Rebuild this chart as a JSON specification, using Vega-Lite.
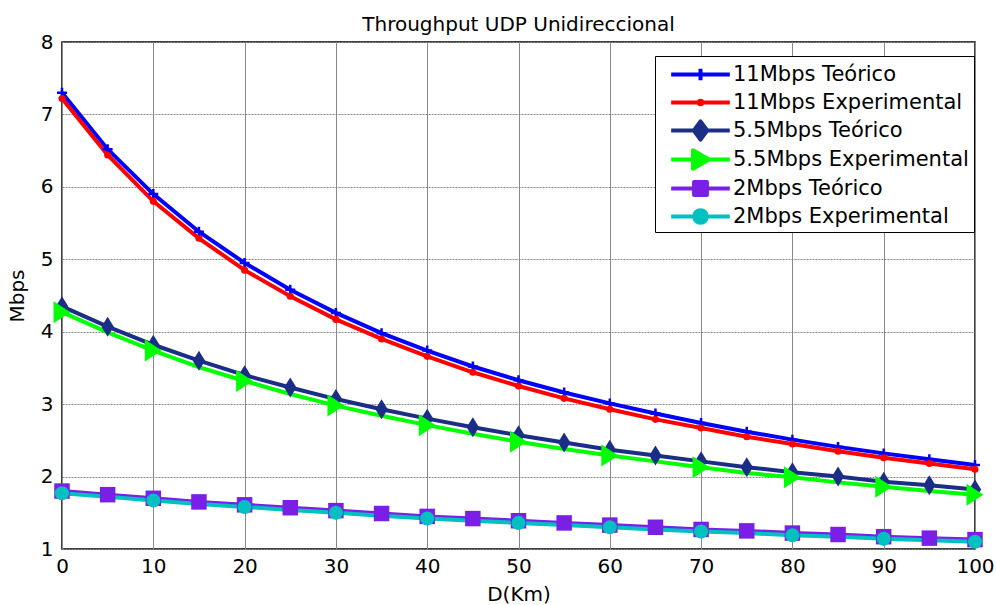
{
  "$schema": "https://vega.github.io/schema/vega-lite/v6.json",
  "width": 913,
  "height": 507,
  "autosize": "none",
  "padding": {"left": 62, "top": 42, "right": 21, "bottom": 56},
  "background": "white",
  "title": {"text": "Throughput  UDP Unidireccional", "fontSize": 20, "font": "DejaVu Sans", "fontWeight": "normal", "color": "black", "anchor": "middle", "frame": "group", "offset": -3},
  "config": {
    "view": {"stroke": "black", "strokeWidth": 1.5},
    "font": "DejaVu Sans",
    "axis": {"labelFont": "DejaVu Sans", "titleFont": "DejaVu Sans", "labelColor": "black", "titleColor": "black", "labelFontSize": 20, "titleFontSize": 20, "titleFontWeight": "normal", "ticks": false, "domain": false, "grid": true, "gridColor": "#888888", "gridOpacity": 1, "gridWidth": 1, "labelFlush": false}
  },
  "data": {"values": [
    {"d":0,"s":"11Mbps Teórico","v":7.30},{"d":5,"s":"11Mbps Teórico","v":6.52},{"d":10,"s":"11Mbps Teórico","v":5.90},{"d":15,"s":"11Mbps Teórico","v":5.38},{"d":20,"s":"11Mbps Teórico","v":4.95},{"d":25,"s":"11Mbps Teórico","v":4.58},{"d":30,"s":"11Mbps Teórico","v":4.26},{"d":35,"s":"11Mbps Teórico","v":3.98},{"d":40,"s":"11Mbps Teórico","v":3.74},{"d":45,"s":"11Mbps Teórico","v":3.52},{"d":50,"s":"11Mbps Teórico","v":3.33},{"d":55,"s":"11Mbps Teórico","v":3.16},{"d":60,"s":"11Mbps Teórico","v":3.01},{"d":65,"s":"11Mbps Teórico","v":2.87},{"d":70,"s":"11Mbps Teórico","v":2.74},{"d":75,"s":"11Mbps Teórico","v":2.62},{"d":80,"s":"11Mbps Teórico","v":2.51},{"d":85,"s":"11Mbps Teórico","v":2.41},{"d":90,"s":"11Mbps Teórico","v":2.32},{"d":95,"s":"11Mbps Teórico","v":2.24},{"d":100,"s":"11Mbps Teórico","v":2.16},
    {"d":0,"s":"11Mbps Experimental","v":7.22},{"d":5,"s":"11Mbps Experimental","v":6.44},{"d":10,"s":"11Mbps Experimental","v":5.80},{"d":15,"s":"11Mbps Experimental","v":5.29},{"d":20,"s":"11Mbps Experimental","v":4.85},{"d":25,"s":"11Mbps Experimental","v":4.49},{"d":30,"s":"11Mbps Experimental","v":4.17},{"d":35,"s":"11Mbps Experimental","v":3.90},{"d":40,"s":"11Mbps Experimental","v":3.66},{"d":45,"s":"11Mbps Experimental","v":3.44},{"d":50,"s":"11Mbps Experimental","v":3.25},{"d":55,"s":"11Mbps Experimental","v":3.08},{"d":60,"s":"11Mbps Experimental","v":2.93},{"d":65,"s":"11Mbps Experimental","v":2.79},{"d":70,"s":"11Mbps Experimental","v":2.67},{"d":75,"s":"11Mbps Experimental","v":2.55},{"d":80,"s":"11Mbps Experimental","v":2.45},{"d":85,"s":"11Mbps Experimental","v":2.35},{"d":90,"s":"11Mbps Experimental","v":2.26},{"d":95,"s":"11Mbps Experimental","v":2.18},{"d":100,"s":"11Mbps Experimental","v":2.10},
    {"d":0,"s":"5.5Mbps Teórico","v":4.35},{"d":5,"s":"5.5Mbps Teórico","v":4.07},{"d":10,"s":"5.5Mbps Teórico","v":3.82},{"d":15,"s":"5.5Mbps Teórico","v":3.60},{"d":20,"s":"5.5Mbps Teórico","v":3.40},{"d":25,"s":"5.5Mbps Teórico","v":3.23},{"d":30,"s":"5.5Mbps Teórico","v":3.07},{"d":35,"s":"5.5Mbps Teórico","v":2.93},{"d":40,"s":"5.5Mbps Teórico","v":2.80},{"d":45,"s":"5.5Mbps Teórico","v":2.68},{"d":50,"s":"5.5Mbps Teórico","v":2.57},{"d":55,"s":"5.5Mbps Teórico","v":2.47},{"d":60,"s":"5.5Mbps Teórico","v":2.37},{"d":65,"s":"5.5Mbps Teórico","v":2.29},{"d":70,"s":"5.5Mbps Teórico","v":2.21},{"d":75,"s":"5.5Mbps Teórico","v":2.13},{"d":80,"s":"5.5Mbps Teórico","v":2.06},{"d":85,"s":"5.5Mbps Teórico","v":2.00},{"d":90,"s":"5.5Mbps Teórico","v":1.93},{"d":95,"s":"5.5Mbps Teórico","v":1.88},{"d":100,"s":"5.5Mbps Teórico","v":1.82},
    {"d":0,"s":"5.5Mbps Experimental","v":4.27},{"d":5,"s":"5.5Mbps Experimental","v":3.99},{"d":10,"s":"5.5Mbps Experimental","v":3.74},{"d":15,"s":"5.5Mbps Experimental","v":3.51},{"d":20,"s":"5.5Mbps Experimental","v":3.32},{"d":25,"s":"5.5Mbps Experimental","v":3.14},{"d":30,"s":"5.5Mbps Experimental","v":2.98},{"d":35,"s":"5.5Mbps Experimental","v":2.84},{"d":40,"s":"5.5Mbps Experimental","v":2.71},{"d":45,"s":"5.5Mbps Experimental","v":2.59},{"d":50,"s":"5.5Mbps Experimental","v":2.48},{"d":55,"s":"5.5Mbps Experimental","v":2.38},{"d":60,"s":"5.5Mbps Experimental","v":2.29},{"d":65,"s":"5.5Mbps Experimental","v":2.21},{"d":70,"s":"5.5Mbps Experimental","v":2.13},{"d":75,"s":"5.5Mbps Experimental","v":2.05},{"d":80,"s":"5.5Mbps Experimental","v":1.99},{"d":85,"s":"5.5Mbps Experimental","v":1.92},{"d":90,"s":"5.5Mbps Experimental","v":1.86},{"d":95,"s":"5.5Mbps Experimental","v":1.80},{"d":100,"s":"5.5Mbps Experimental","v":1.75},
    {"d":0,"s":"2Mbps Teórico","v":1.80},{"d":5,"s":"2Mbps Teórico","v":1.75},{"d":10,"s":"2Mbps Teórico","v":1.70},{"d":15,"s":"2Mbps Teórico","v":1.65},{"d":20,"s":"2Mbps Teórico","v":1.61},{"d":25,"s":"2Mbps Teórico","v":1.57},{"d":30,"s":"2Mbps Teórico","v":1.53},{"d":35,"s":"2Mbps Teórico","v":1.49},{"d":40,"s":"2Mbps Teórico","v":1.45},{"d":45,"s":"2Mbps Teórico","v":1.42},{"d":50,"s":"2Mbps Teórico","v":1.39},{"d":55,"s":"2Mbps Teórico","v":1.36},{"d":60,"s":"2Mbps Teórico","v":1.33},{"d":65,"s":"2Mbps Teórico","v":1.30},{"d":70,"s":"2Mbps Teórico","v":1.27},{"d":75,"s":"2Mbps Teórico","v":1.25},{"d":80,"s":"2Mbps Teórico","v":1.22},{"d":85,"s":"2Mbps Teórico","v":1.20},{"d":90,"s":"2Mbps Teórico","v":1.17},{"d":95,"s":"2Mbps Teórico","v":1.15},{"d":100,"s":"2Mbps Teórico","v":1.13},
    {"d":0,"s":"2Mbps Experimental","v":1.77},{"d":5,"s":"2Mbps Experimental","v":1.72},{"d":10,"s":"2Mbps Experimental","v":1.67},{"d":15,"s":"2Mbps Experimental","v":1.62},{"d":20,"s":"2Mbps Experimental","v":1.58},{"d":25,"s":"2Mbps Experimental","v":1.54},{"d":30,"s":"2Mbps Experimental","v":1.50},{"d":35,"s":"2Mbps Experimental","v":1.46},{"d":40,"s":"2Mbps Experimental","v":1.42},{"d":45,"s":"2Mbps Experimental","v":1.39},{"d":50,"s":"2Mbps Experimental","v":1.36},{"d":55,"s":"2Mbps Experimental","v":1.33},{"d":60,"s":"2Mbps Experimental","v":1.30},{"d":65,"s":"2Mbps Experimental","v":1.27},{"d":70,"s":"2Mbps Experimental","v":1.24},{"d":75,"s":"2Mbps Experimental","v":1.22},{"d":80,"s":"2Mbps Experimental","v":1.19},{"d":85,"s":"2Mbps Experimental","v":1.17},{"d":90,"s":"2Mbps Experimental","v":1.14},{"d":95,"s":"2Mbps Experimental","v":1.12},{"d":100,"s":"2Mbps Experimental","v":1.10}
  ]},
  "encoding": {
    "x": {"field": "d", "type": "quantitative", "scale": {"domain": [0, 100], "nice": false}, "axis": {"title": "D(Km)", "values": [0,10,20,30,40,50,60,70,80,90,100], "labelPadding": 7, "titlePadding": 8, "gridDash": []}},
    "y": {"field": "v", "type": "quantitative", "scale": {"domain": [1, 8], "nice": false, "zero": false}, "axis": {"title": "Mbps", "values": [1,2,3,4,5,6,7,8], "labelPadding": 9, "titlePadding": 13, "gridDash": [2, 1]}},
    "color": {"field": "s", "type": "nominal",
      "scale": {"domain": ["11Mbps Teórico","11Mbps Experimental","5.5Mbps Teórico","5.5Mbps Experimental","2Mbps Teórico","2Mbps Experimental"],
                "range": ["#0000FF","#FF0000","#1B2E87","#00FF00","#7A1FE6","#00C0C0"]}}
  },
  "layer": [
    {"mark": {"type": "line", "strokeWidth": 4},
     "encoding": {"color": {"field": "s", "type": "nominal",
       "legend": {"orient": "none", "legendX": 593, "legendY": 14, "title": null, "strokeColor": "black", "fillColor": "white", "padding": 5,
         "labelFont": "DejaVu Sans", "labelFontSize": 21, "labelColor": "black", "labelLimit": 0, "symbolSize": 529, "symbolOffset": 27, "labelOffset": 19, "rowPadding": 4, "symbolStrokeWidth": 4,
         "encode": {"symbols": {"update": {
           "shape": {"signal": "datum.value === '11Mbps Teórico' ? 'M-2.55,0H2.55M0,-0.5V0.5' : datum.value === '11Mbps Experimental' ? 'M-2.55,0H2.55M-0.15,0A0.15,0.15 0 1,0 0.15,0A0.15,0.15 0 1,0 -0.15,0Z' : datum.value === '5.5Mbps Teórico' ? 'M-2.55,0H2.55M0,-0.8L0.58,0L0,0.8L-0.58,0Z' : datum.value === '5.5Mbps Experimental' ? 'M-2.55,0H2.55M-0.65,-0.8L0.72,0L-0.65,0.8Z' : datum.value === '2Mbps Teórico' ? 'M-2.55,0H2.55M-0.56,-0.56H0.56V0.56H-0.56Z' : 'M-2.55,0H2.55M-0.55,0A0.55,0.55 0 1,0 0.55,0A0.55,0.55 0 1,0 -0.55,0Z'"},
           "fill": {"scale": "color", "field": "value"},
           "stroke": {"scale": "color", "field": "value"},
           "strokeWidth": {"value": 4},
           "strokeJoin": {"value": "round"},
           "opacity": {"value": 1}
         }}}}}}},
    {"transform": [{"filter": "datum.s === '11Mbps Teórico'"}],
     "mark": {"type": "point", "shape": "M-1,0H1M0,-1V1", "filled": false, "size": 100, "strokeWidth": 2.5, "opacity": 1},
     "encoding": {"color": {"field": "s", "type": "nominal", "legend": null}}},
    {"transform": [{"filter": "datum.s === '11Mbps Experimental'"}],
     "mark": {"type": "point", "shape": "circle", "filled": true, "size": 50, "opacity": 1},
     "encoding": {"color": {"field": "s", "type": "nominal", "legend": null}}},
    {"transform": [{"filter": "datum.s === '5.5Mbps Teórico'"}],
     "mark": {"type": "point", "shape": "M0,-1L0.62,0L0,1L-0.62,0Z", "filled": true, "size": 400, "opacity": 1},
     "encoding": {"color": {"field": "s", "type": "nominal", "legend": null}}},
    {"transform": [{"filter": "datum.s === '5.5Mbps Experimental' && datum.d % 10 === 0"}],
     "mark": {"type": "point", "shape": "M-0.77,-1L0.77,0L-0.77,1Z", "filled": true, "size": 484, "opacity": 1},
     "encoding": {"color": {"field": "s", "type": "nominal", "legend": null}}},
    {"transform": [{"filter": "datum.s === '2Mbps Teórico'"}],
     "mark": {"type": "point", "shape": "square", "filled": true, "size": 240, "opacity": 1},
     "encoding": {"color": {"field": "s", "type": "nominal", "legend": null}}},
    {"transform": [{"filter": "datum.s === '2Mbps Experimental' && datum.d % 10 === 0"}],
     "mark": {"type": "point", "shape": "circle", "filled": true, "size": 200, "opacity": 1},
     "encoding": {"color": {"field": "s", "type": "nominal", "legend": null}}}
  ]
}
